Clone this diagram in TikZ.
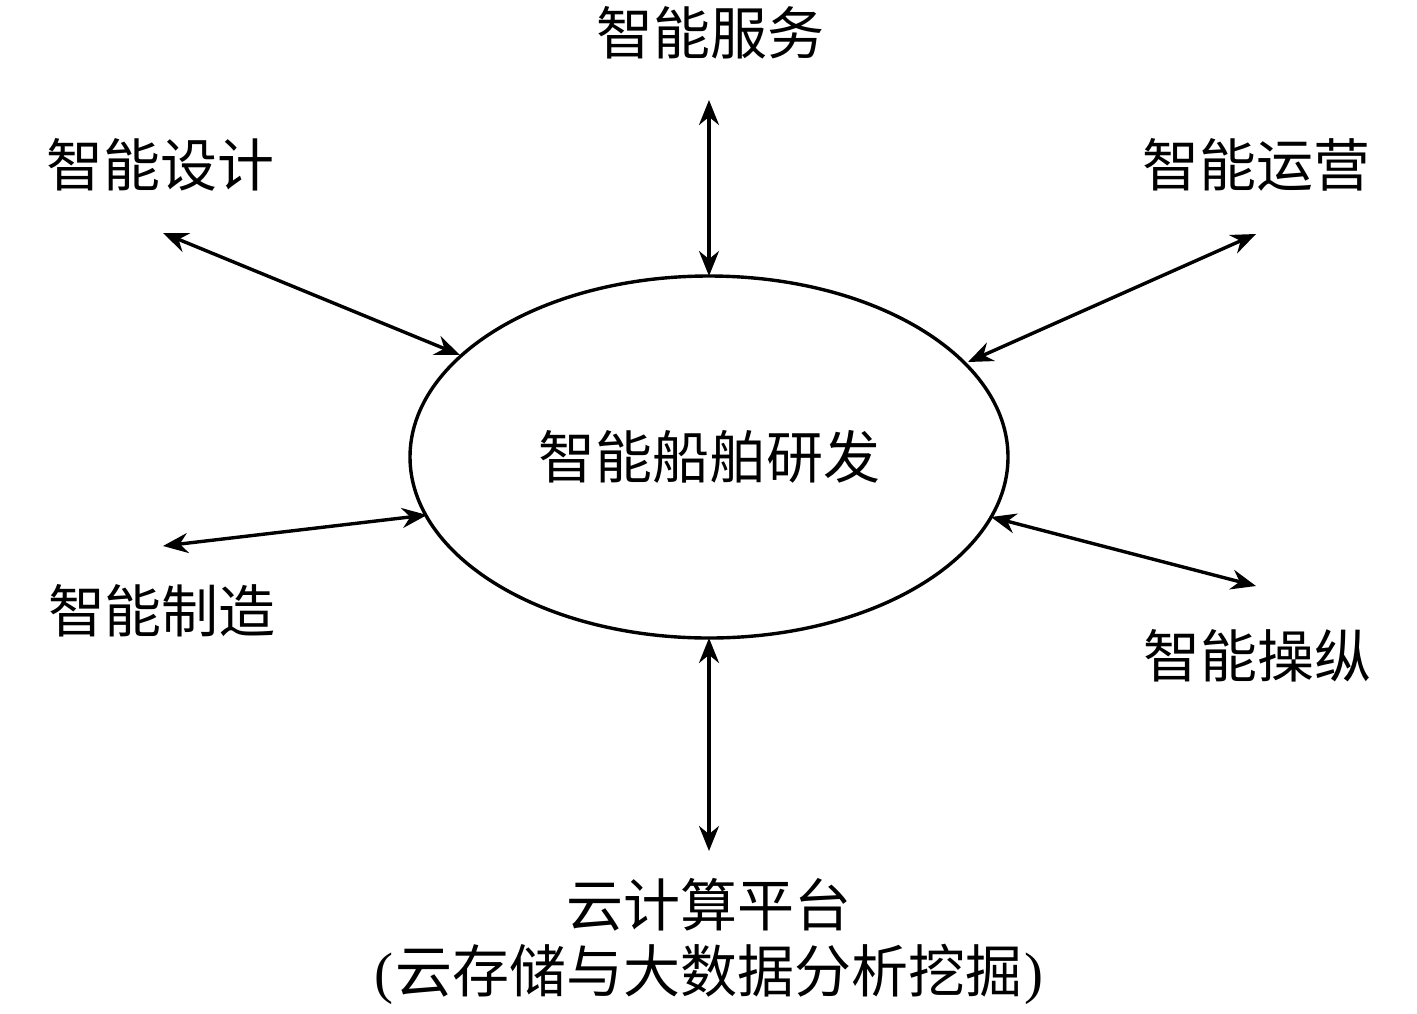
\documentclass[tikz,border=0pt]{standalone}
\usepackage{fontspec}
\setmainfont{Liberation Serif}
\newfontfamily\cjk{Noto Sans CJK SC}
\usetikzlibrary{arrows.meta,shapes.geometric}
\begin{document}
\begin{tikzpicture}[x=1pt,y=-1pt,
  lbl/.style={font=\cjk\fontsize{57}{68}\selectfont, inner sep=0pt, align=center},
  link/.style={line width=3.4pt, {Stealth[length=25pt,width=20pt]}-{Stealth[length=25pt,width=20pt]}}]
\useasboundingbox (0,0) rectangle (1417,1013);
\node[draw, line width=3.4pt, ellipse, minimum width=598pt, minimum height=362pt, inner sep=0pt, lbl] (e) at (709,457) {智能船舶研发};
\node[lbl] (fw) at (710,33) {智能服务};
\node[lbl] (sj) at (160,165) {智能设计};
\node[lbl] (yy) at (1256,165) {智能运营};
\node[lbl] (zz) at (162,611) {智能制造};
\node[lbl] (cz) at (1257,656) {智能操纵};
\node[lbl] (yj) at (709,941) {云计算平台\\[-2pt]{\rmfamily (}\kern2pt云存储与大数据分析挖掘\kern2pt{\rmfamily )}};
\coordinate (a1) at (709,100); \coordinate (b1) at (709,276);
\coordinate (a2) at (163,233); \coordinate (b2) at (460,355);
\coordinate (a3) at (1256,234); \coordinate (b3) at (968,362);
\coordinate (a4) at (163,546); \coordinate (b4) at (427,515);
\coordinate (a5) at (1256,586); \coordinate (b5) at (991,517);
\coordinate (a6) at (709,851); \coordinate (b6) at (709,638);
\foreach \i in {1,...,6} \draw[link] (a\i) -- (b\i);
\end{tikzpicture}
\end{document}
